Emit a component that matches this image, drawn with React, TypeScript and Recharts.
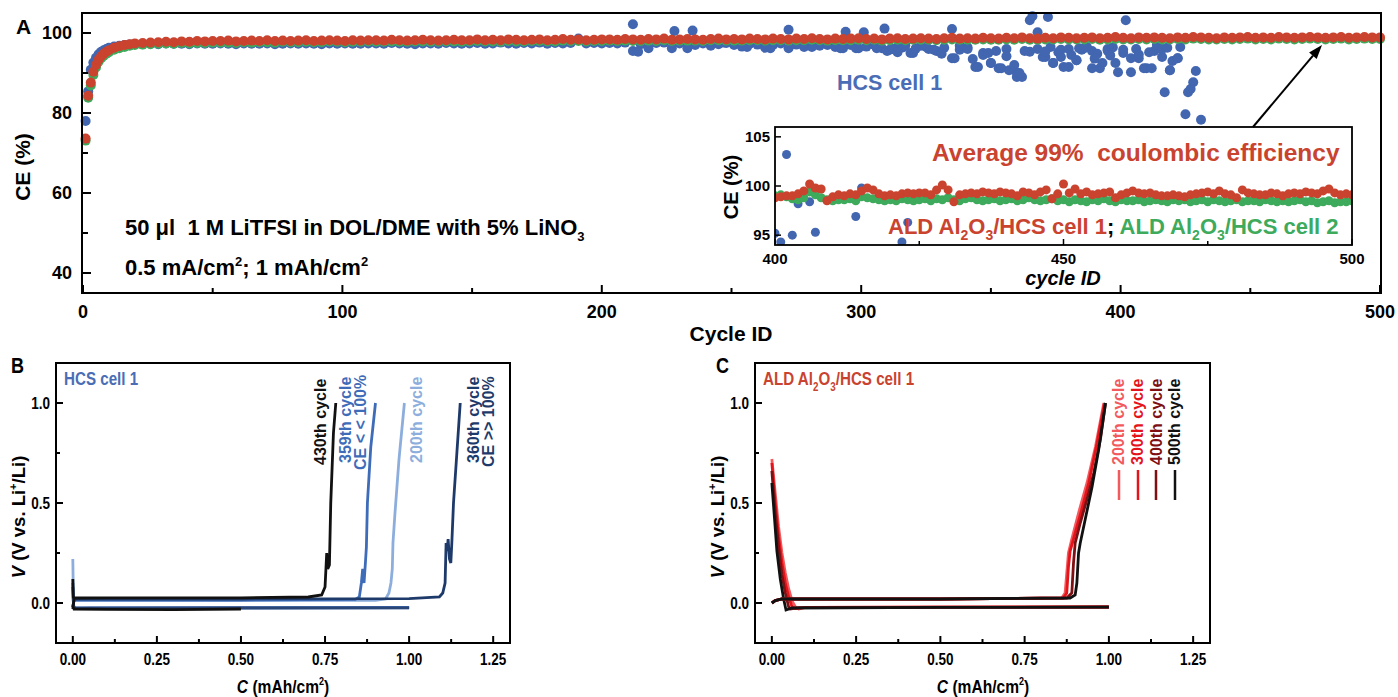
import React from "react";
import { ScatterChart, Scatter, XAxis, YAxis, LineChart, Line } from "recharts";

// ---------- Panel A: coulombic efficiency vs cycle ----------
// cycle IDs: every cycle at the start, then every 3rd cycle
const earlyCycles = [1, 2, 3, 4, 5, 6, 7, 8, 9, 10, 12, 14, 16, 18, 20];
const laterCycles = Array.from({ length: 160 }, (_, i) => 23 + i * 3);
const bandCycles = [...earlyCycles, ...laterCycles];

// ALD Al2O3/HCS cell 1 (red)
const aldCell1CE = [
  73.6, 84.3, 87.6, 90.3, 92.0, 93.3, 94.2, 94.8, 95.3, 95.7, 96.3, 96.7, 97.0, 97.2, 97.4,
  97.5, 97.6, 97.7, 97.8, 97.7, 97.9, 97.8, 98.0, 97.9, 98.0,
  98.0, 98.1, 97.9, 98.0, 98.1, 98.0, 98.2, 98.0, 98.1, 98.0,
  98.1, 98.2, 98.0, 98.1, 98.2, 98.1, 98.0, 98.2, 98.1, 98.2,
  98.2, 98.1, 98.3, 98.2, 98.1, 98.2, 98.3, 98.2, 98.1, 98.2,
  98.3, 98.2, 98.2, 98.4, 98.2, 98.3, 98.2, 98.4, 98.3, 98.2,
  98.3, 98.4, 98.2, 98.3, 98.5, 98.3, 98.4, 98.2, 98.3, 98.4,
  98.4, 98.3, 98.5, 98.4, 98.3, 98.5, 98.4, 98.6, 98.3, 98.4,
  98.5, 98.4, 98.3, 98.5, 98.6, 98.4, 98.5, 98.4, 98.6, 98.5,
  98.4, 98.6, 98.5, 98.4, 98.6, 98.5, 98.7, 98.5, 98.4, 98.6,
  98.5, 98.6, 98.7, 98.5, 98.6, 98.4, 98.6, 98.7, 98.5, 98.6,
  98.7, 98.6, 98.5, 98.7, 98.8, 98.6, 98.7, 98.6, 98.8, 98.7,
  98.6, 98.8, 98.7, 98.9, 98.7, 98.6, 98.8, 98.7, 98.9, 98.8,
  98.7, 98.8, 98.9, 98.7, 98.8, 99.0, 98.8, 98.7, 98.9, 98.8,
  98.9, 98.8, 98.7, 98.9, 98.8, 99.0, 98.9, 98.8, 98.7, 98.9,
  98.8, 98.9, 99.0, 98.8, 98.9, 98.8, 99.0, 98.9, 98.8, 98.9,
  99.0, 98.9, 98.8, 98.9, 99.0, 98.8, 98.9, 99.0, 98.9, 98.9,
];

// ALD Al2O3/HCS cell 2 (green)
const aldCell2CE = [
  73.1, 83.8, 86.9, 89.5, 91.4, 92.8, 93.7, 94.3, 94.8, 95.2, 95.8, 96.2, 96.5, 96.8, 97.0,
  97.1, 97.2, 97.3, 97.4, 97.3, 97.5, 97.4, 97.5, 97.5, 97.6,
  97.6, 97.6, 97.5, 97.7, 97.6, 97.7, 97.7, 97.6, 97.8, 97.7,
  97.7, 97.8, 97.7, 97.7, 97.9, 97.8, 97.7, 97.8, 97.8, 97.9,
  97.8, 97.8, 97.9, 97.8, 97.8, 97.9, 97.9, 97.8, 97.8, 97.9,
  97.9, 97.8, 97.9, 98.0, 97.9, 97.9, 97.8, 98.0, 97.9, 97.9,
  98.0, 98.0, 97.9, 97.9, 98.1, 98.0, 98.0, 97.9, 98.0, 98.0,
  98.1, 98.0, 98.1, 98.0, 98.0, 98.1, 98.0, 98.2, 98.0, 98.1,
  98.1, 98.1, 98.0, 98.2, 98.2, 98.1, 98.1, 98.1, 98.2, 98.2,
  98.1, 98.2, 98.2, 98.1, 98.2, 98.2, 98.3, 98.2, 98.1, 98.2,
  98.2, 98.2, 98.3, 98.2, 98.3, 98.1, 98.2, 98.3, 98.2, 98.3,
  98.3, 98.3, 98.2, 98.3, 98.4, 98.3, 98.3, 98.3, 98.4, 98.3,
  98.3, 98.4, 98.3, 98.5, 98.3, 98.3, 98.4, 98.4, 98.5, 98.4,
  98.4, 98.4, 98.5, 98.3, 98.4, 98.5, 98.4, 98.4, 98.5, 98.4,
  98.5, 98.4, 98.4, 98.5, 98.4, 98.6, 98.5, 98.4, 98.4, 98.5,
  98.4, 98.5, 98.6, 98.4, 98.5, 98.4, 98.6, 98.5, 98.4, 98.5,
  98.6, 98.5, 98.4, 98.5, 98.6, 98.4, 98.5, 98.6, 98.5, 98.5,
];

// HCS cell 1 (blue) on the same cycle grid, until the cell fails (~cycle 431)
const hcsCE = [
  78.0, 85.4, 90.8, 92.6, 93.8, 94.7, 95.3, 95.7, 96.0, 96.3, 96.6, 96.8, 97.0, 97.1, 97.2,
  97.2, 97.3, 97.2, 97.4, 97.3, 97.3, 97.2, 97.4, 97.3, 97.3,
  97.4, 97.3, 97.2, 97.4, 97.3, 97.3, 97.4, 97.2, 97.3, 97.4,
  97.3, 97.4, 97.3, 97.2, 97.4, 97.3, 97.4, 97.3, 97.3, 97.4,
  97.4, 97.3, 97.5, 97.4, 97.3, 97.2, 97.4, 97.4, 97.3, 97.5,
  97.4, 97.3, 97.4, 97.5, 97.3, 97.4, 97.6, 97.4, 97.3, 97.5,
  97.4, 97.6, 97.3, 97.5, 97.4, 97.5, 98.6, 97.4, 97.5, 97.4,
  97.5, 97.4, 97.6, 95.5, 97.2, 96.2, 97.5, 97.6, 96.2, 97.4,
  96.2, 97.0, 97.4, 96.8, 97.2, 97.5, 97.0, 96.6, 97.3, 97.1,
  96.3, 97.0, 97.4, 96.2, 97.1, 96.5, 97.2, 96.8, 97.0, 96.5,
  96.2, 97.0, 96.2, 96.6, 97.1, 96.2, 95.8, 96.5, 96.9, 95.0,
  96.8, 96.0, 95.5, 96.3, 93.7, 95.8, 96.4, 91.5, 95.0, 92.5,
  91.2, 96.0, 90.7, 89.0, 95.3, 96.0, 94.0, 92.5, 95.8, 91.5,
  93.2, 96.2, 95.5, 91.2, 96.0, 92.5, 95.0, 90.2, 93.7, 91.2,
  95.5, 94.0, 90.7, 93.7, 79.7, 87.7, 78.3,
];

// scattered HCS cell 1 points off the grid
const hcsExtraCycles = [
  212, 214, 228, 235, 247, 256, 265, 272, 281, 292, 294, 298, 301, 306, 309, 310, 312, 316, 319,
  325, 328, 335, 336, 338, 341, 345, 347, 350, 352, 354, 357, 360, 361, 363, 365, 366, 368, 370,
  372, 373, 374, 376, 378, 380, 381, 383, 385, 387, 389, 391, 393, 395, 397, 399, 402, 404, 406,
  409, 411, 412, 414, 416, 417, 419, 420, 422, 423, 426, 427, 429,
  314, 321, 331, 343, 349, 356, 359, 371, 377, 384, 390, 396, 401, 407, 418,
];
const hcsExtraCE = [
  102.2, 95.3, 100.5, 100.6, 97.6, 96.5, 96.2, 100.8, 96.5, 96.2, 100.3, 96.2, 100.2, 96.2, 101.1, 95.5, 96.0, 96.4, 95.0,
  96.5, 95.8, 101.0, 93.7, 96.8, 96.0, 91.5, 94.5, 92.5, 95.5, 91.2, 90.7, 89.0, 90.0, 95.5, 103.2, 104.2, 100.2, 94.0,
  104.0, 96.5, 92.5, 95.2, 91.5, 96.0, 94.5, 93.2, 95.8, 96.5, 91.2, 94.8, 92.5, 95.6, 96.4, 90.2, 103.2, 93.7, 96.0,
  91.2, 95.2, 91.2, 97.0, 96.0, 85.2, 90.7, 93.0, 93.7, 96.5, 85.2, 86.0, 90.5,
  95.2, 96.1, 94.8, 93.5, 95.0, 94.2, 92.0, 95.4, 94.0, 96.2, 93.6, 94.4, 95.8, 94.6, 96.3,
];

// inset: cycles 400-500
const insetCycles = Array.from({ length: 101 }, (_, i) => 400 + i);
const insetCell1CE = [
  98.8, 98.9, 99.0, 99.0, 99.2, 99.5, 100.2, 99.8, 99.7, 98.5,
  98.9, 99.1, 99.0, 99.2, 99.1, 99.5, 99.8, 99.6, 99.2, 99.0,
  99.1, 99.0, 99.2, 99.3, 99.2, 99.3, 99.3, 99.1, 99.6, 100.1,
  99.6, 98.4, 99.1, 99.2, 99.3, 99.2, 99.4, 99.3, 99.2, 99.4,
  99.3, 99.2, 99.0, 99.4, 99.3, 99.1, 99.4, 99.6, 98.7, 99.2,
  100.2, 99.3, 99.7, 99.2, 99.4, 99.1, 99.2, 99.3, 99.4, 98.8,
  99.1, 99.3, 99.5, 99.3, 99.2, 99.3, 99.1, 99.0, 99.0, 99.1,
  99.0, 98.9, 99.1, 99.2, 99.3, 99.4, 99.2, 99.5, 99.2, 99.1,
  98.8, 99.6, 99.3, 99.2, 99.1, 99.1, 99.3, 99.2, 99.0, 99.2,
  99.3, 99.2, 99.4, 99.3, 99.2, 99.5, 99.7, 99.3, 99.1, 99.2,
  99.1,
];
const insetCell2CE = [
  99.0, 99.1, 98.9, 98.7, 98.6, 98.8, 99.4, 99.1, 98.8, 98.6,
  98.5, 98.6, 98.6, 98.7, 98.5, 98.9, 98.8, 98.7, 98.6, 98.5,
  98.6, 98.5, 98.7, 98.6, 98.5, 98.6, 98.7, 98.5, 98.7, 98.6,
  98.8, 98.6, 98.5, 98.7, 98.8, 98.6, 98.5, 98.6, 98.7, 98.5,
  98.6, 98.7, 98.5, 98.6, 98.8, 98.6, 98.5, 98.6, 98.7, 98.5,
  98.6, 98.4, 98.6, 98.5, 98.4, 98.6, 98.5, 98.7, 98.5, 98.4,
  98.6, 98.5, 98.5, 98.6, 98.4, 98.5, 98.6, 98.5, 98.4, 98.6,
  98.5, 98.6, 98.4, 98.5, 98.6, 98.4, 98.6, 98.5, 98.4, 98.5,
  98.6, 98.4, 98.5, 98.5, 98.4, 98.6, 98.5, 98.4, 98.5, 98.4,
  98.5, 98.6, 98.4, 98.5, 98.3, 98.4, 98.5, 98.3, 98.4, 98.4,
  98.5,
];
const insetHcsCycles = [400, 401, 402, 403, 404, 406, 407, 414, 415, 422, 423];
const insetHcsCE = [95.2, 94.3, 103.2, 95.0, 98.2, 98.4, 95.3, 96.9, 99.8, 94.3, 96.3];

// ---------- Panel B: HCS cell 1 voltage profiles [C, V] ----------
const b200Plate = [[0, 0.22], [0.002, 0.0], [0.004, -0.028], [0.05, -0.026], [0.5, -0.025], [1.0, -0.024]];
const b200Strip = [[0, -0.02], [0.003, 0.015], [0.05, 0.013], [0.5, 0.012], [0.9, 0.013], [0.93, 0.02], [0.94, 0.05], [0.946, 0.1], [0.95, 0.17], [0.952, 0.3], [0.958, 0.45], [0.97, 0.72], [0.986, 1.0]];
const b359Plate = [[0, 0.1], [0.002, -0.01], [0.004, -0.025], [0.5, -0.023], [1.0, -0.022]];
const b359Strip = [[0, -0.02], [0.004, 0.015], [0.5, 0.015], [0.84, 0.018], [0.852, 0.03], [0.858, 0.1], [0.862, 0.17], [0.866, 0.1], [0.87, 0.2], [0.873, 0.28], [0.876, 0.5], [0.886, 0.78], [0.9, 1.0]];
const b360Plate = [[0, 0.08], [0.002, -0.01], [0.004, -0.026], [0.5, -0.025], [1.0, -0.024]];
const b360Strip = [[0, -0.02], [0.004, 0.02], [0.5, 0.02], [1.0, 0.022], [1.09, 0.03], [1.1, 0.05], [1.107, 0.1], [1.11, 0.3], [1.113, 0.26], [1.116, 0.32], [1.12, 0.22], [1.124, 0.2], [1.127, 0.3], [1.132, 0.5], [1.142, 0.75], [1.152, 1.0]];
const b430Plate = [[0, 0.12], [0.002, -0.01], [0.004, -0.03], [0.1, -0.032], [0.3, -0.033], [0.5, -0.03]];
const b430Strip = [[0, -0.03], [0.004, 0.025], [0.1, 0.026], [0.5, 0.026], [0.7, 0.03], [0.74, 0.04], [0.75, 0.08], [0.755, 0.25], [0.758, 0.17], [0.763, 0.19], [0.767, 0.5], [0.775, 0.85], [0.782, 1.0]];

// ---------- Panel C: ALD Al2O3/HCS cell 1 voltage profiles [C, V] ----------
const c200Plate = [[0, 0.72], [0.01, 0.55], [0.02, 0.38], [0.03, 0.25], [0.04, 0.15], [0.05, 0.07], [0.06, 0.01], [0.07, -0.02], [0.08, -0.03], [0.1, -0.022], [0.5, -0.02], [1.0, -0.02]];
const c300Plate = [[0, 0.7], [0.01, 0.5], [0.02, 0.33], [0.03, 0.2], [0.04, 0.1], [0.05, 0.03], [0.06, -0.02], [0.07, -0.028], [0.1, -0.022], [1.0, -0.02]];
const c400Plate = [[0, 0.66], [0.01, 0.45], [0.02, 0.28], [0.03, 0.14], [0.04, 0.05], [0.05, -0.02], [0.055, -0.03], [0.08, -0.023], [1.0, -0.02]];
const c500Plate = [[0, 0.6], [0.008, 0.42], [0.015, 0.26], [0.025, 0.12], [0.035, 0.02], [0.042, -0.035], [0.06, -0.025], [0.5, -0.022], [1.0, -0.021]];
const c200Strip = [[0, 0], [0.01, 0.012], [0.03, 0.02], [0.5, 0.02], [0.86, 0.025], [0.87, 0.05], [0.875, 0.15], [0.88, 0.25], [0.89, 0.32], [0.91, 0.45], [0.935, 0.6], [0.96, 0.78], [0.985, 1.0]];
const c300Strip = [[0, 0], [0.01, 0.012], [0.03, 0.02], [0.5, 0.02], [0.865, 0.025], [0.875, 0.05], [0.88, 0.18], [0.885, 0.26], [0.9, 0.35], [0.92, 0.47], [0.94, 0.6], [0.965, 0.8], [0.987, 1.0]];
const c400Strip = [[0, 0], [0.01, 0.012], [0.03, 0.02], [0.5, 0.02], [0.875, 0.025], [0.89, 0.05], [0.895, 0.2], [0.9, 0.3], [0.915, 0.4], [0.935, 0.52], [0.955, 0.65], [0.975, 0.82], [0.99, 1.0]];
const c500Strip = [[0, 0], [0.01, 0.012], [0.03, 0.02], [0.5, 0.02], [0.885, 0.025], [0.9, 0.04], [0.905, 0.1], [0.91, 0.25], [0.915, 0.3], [0.93, 0.42], [0.95, 0.58], [0.97, 0.77], [0.99, 1.0]];

const RED = "#C9432F";
const GREEN = "#3DAA5C";
const BLUE = "#4266B0";
const FONT = "'Liberation Sans', Arial, sans-serif";

const pts = (xs: number[], ys: number[]) => ys.map((v, i) => ({ c: xs[i], v }));
const curve = (arr: number[][]) => arr.map(([c, v]) => ({ c, v }));
const dot = (color: string, r: number) => (p: any) => <circle cx={p.cx} cy={p.cy} r={r} fill={color} />;

const hcsPoints = [...pts(bandCycles, hcsCE), ...pts(hcsExtraCycles, hcsExtraCE)];

// inward ticks with labels outside
const mainXTick = (p: any) => {
  const v = p.payload.value;
  const major = v % 100 === 0;
  return (
    <g>
      <line x1={p.x} x2={p.x} y1={p.y} y2={p.y - (major ? 8 : 5)} stroke="#000" strokeWidth={2} />
      {major && <text x={p.x} y={p.y + 25} textAnchor="middle" fontSize={18} fontWeight="bold" fontFamily={FONT}>{v}</text>}
    </g>
  );
};
const mainYTick = (p: any) => {
  const v = p.payload.value;
  const major = v % 20 === 0;
  return (
    <g>
      <line x1={p.x} x2={p.x + (major ? 8 : 5)} y1={p.y} y2={p.y} stroke="#000" strokeWidth={2} />
      {major && <text x={p.x - 11} y={p.y + 6} textAnchor="end" fontSize={18} fontWeight="bold" fontFamily={FONT}>{v}</text>}
    </g>
  );
};
const insetXTick = (p: any) => {
  const v = p.payload.value;
  const major = v % 50 === 0;
  return (
    <g>
      <line x1={p.x} x2={p.x} y1={p.y} y2={p.y - (major ? 6 : 4)} stroke="#000" strokeWidth={1.5} />
      {major && <text x={p.x} y={p.y + 19} textAnchor="middle" fontSize={15} fontWeight="bold" fontFamily={FONT}>{v}</text>}
    </g>
  );
};
const insetYTick = (p: any) => {
  const v = p.payload.value;
  return (
    <g>
      <line x1={p.x} x2={p.x + 6} y1={p.y} y2={p.y} stroke="#000" strokeWidth={1.5} />
      <text x={p.x - 5} y={p.y + 5} textAnchor="end" fontSize={15} fontWeight="bold" fontFamily={FONT}>{v}</text>
    </g>
  );
};
const vcXTick = (p: any) => {
  const v = p.payload.value;
  const major = Math.abs(v * 4 - Math.round(v * 4)) < 1e-6;
  return (
    <g>
      <line x1={p.x} x2={p.x} y1={p.y} y2={p.y - (major ? 7 : 4)} stroke="#000" strokeWidth={2} />
      {major && (
        <text transform={`translate(${p.x},${p.y + 22}) scale(0.82,1)`} textAnchor="middle" fontSize={16.5} fontWeight="bold" fontFamily={FONT}>
          {v.toFixed(2)}
        </text>
      )}
    </g>
  );
};
const vcYTick = (p: any) => {
  const v = p.payload.value;
  const major = Math.abs(v * 2 - Math.round(v * 2)) < 1e-6;
  return (
    <g>
      <line x1={p.x} x2={p.x + (major ? 7 : 4)} y1={p.y} y2={p.y} stroke="#000" strokeWidth={2} />
      {major && (
        <text transform={`translate(${p.x - 6},${p.y + 6}) scale(0.82,1)`} textAnchor="end" fontSize={16.5} fontWeight="bold" fontFamily={FONT}>
          {v.toFixed(1)}
        </text>
      )}
    </g>
  );
};

const vcXTicks = [0, 0.125, 0.25, 0.375, 0.5, 0.625, 0.75, 0.875, 1.0, 1.125, 1.25];
const vcYTicks = [0, 0.25, 0.5, 0.75, 1.0];

function VCChart({ lines, left }: { lines: { data: number[][]; color: string }[]; left: number }) {
  return (
    <LineChart width={520} height={347} margin={{ top: 13, right: 10, bottom: 24, left }}>
      <XAxis type="number" dataKey="c" domain={[-0.05, 1.3]} ticks={vcXTicks} interval={0} tickSize={0} tickMargin={0} axisLine={false} tick={vcXTick} height={30} allowDataOverflow />
      <YAxis type="number" dataKey="v" domain={[-0.2, 1.2]} ticks={vcYTicks} interval={0} tickSize={0} tickMargin={0} axisLine={false} tick={vcYTick} width={40} allowDataOverflow />
      {lines.map((l, i) => (
        <Line key={i} data={curve(l.data)} dataKey="v" stroke={l.color} strokeWidth={2.8} dot={false} isAnimationActive={false} />
      ))}
    </LineChart>
  );
}

const Narrow = ({ x, y, size, fill = "#000", anchor = "start", children }: any) => (
  <text transform={`translate(${x},${y}) scale(0.82,1)`} fontSize={size} fill={fill} textAnchor={anchor} fontWeight="bold">
    {children}
  </text>
);
const Vert = ({ x, y, fill, children }: any) => (
  <text transform={`translate(${x},${y}) rotate(-90)`} fontSize={16} fill={fill} fontWeight="bold">
    {children}
  </text>
);

export default function App() {
  return (
    <div style={{ position: "absolute", left: 0, top: 0, width: 1398, height: 697, background: "#fff", fontFamily: FONT }}>
      {/* Panel A main */}
      <div style={{ position: "absolute", left: 0, top: 0 }}>
        <ScatterChart width={1398} height={345} margin={{ top: 13, right: 18, bottom: 22, left: 33 }}>
          <XAxis type="number" dataKey="c" domain={[0, 500]} ticks={[0, 50, 100, 150, 200, 250, 300, 350, 400, 450, 500]} interval={0} tickSize={0} tickMargin={0} axisLine={false} tick={mainXTick} height={30} />
          <YAxis type="number" dataKey="v" domain={[35, 105]} ticks={[40, 50, 60, 70, 80, 90, 100]} interval={0} tickSize={0} tickMargin={0} axisLine={false} tick={mainYTick} width={50} />
          <Scatter data={hcsPoints} shape={dot(BLUE, 5)} isAnimationActive={false} />
          <Scatter data={pts(bandCycles, aldCell2CE)} shape={dot(GREEN, 5)} isAnimationActive={false} />
          <Scatter data={pts(bandCycles, aldCell1CE)} shape={dot(RED, 5)} isAnimationActive={false} />
        </ScatterChart>
      </div>

      {/* Panel A inset */}
      <div style={{ position: "absolute", left: 775, top: 127, width: 577, height: 118, background: "#fff" }} />
      <div style={{ position: "absolute", left: 690, top: 120 }}>
        <ScatterChart width={700} height={170} margin={{ top: 7, right: 38, bottom: 25, left: 45 }}>
          <XAxis type="number" dataKey="c" domain={[400, 500]} ticks={[400, 425, 450, 475, 500]} interval={0} tickSize={0} tickMargin={0} axisLine={false} tick={insetXTick} height={20} allowDataOverflow />
          <YAxis type="number" dataKey="v" domain={[94, 106]} ticks={[95, 100, 105]} interval={0} tickSize={0} tickMargin={0} axisLine={false} tick={insetYTick} width={40} allowDataOverflow />
          <Scatter data={pts(insetHcsCycles, insetHcsCE)} shape={dot(BLUE, 4.5)} isAnimationActive={false} />
          <Scatter data={pts(insetCycles, insetCell2CE)} shape={dot(GREEN, 4.5)} isAnimationActive={false} />
          <Scatter data={pts(insetCycles, insetCell1CE)} shape={dot(RED, 4.5)} isAnimationActive={false} />
        </ScatterChart>
      </div>

      {/* Panel B */}
      <div style={{ position: "absolute", left: 0, top: 350 }}>
        <VCChart
          left={16}
          lines={[
            { data: b200Plate, color: "#8DAEDD" },
            { data: b359Plate, color: "#3F6CB8" },
            { data: b360Plate, color: "#2A4677" },
            { data: b430Plate, color: "#111" },
            { data: b200Strip, color: "#8DAEDD" },
            { data: b359Strip, color: "#3F6CB8" },
            { data: b360Strip, color: "#1E3A6A" },
            { data: b430Strip, color: "#111" },
          ]}
        />
      </div>

      {/* Panel C */}
      <div style={{ position: "absolute", left: 700, top: 350 }}>
        <VCChart
          left={15}
          lines={[
            { data: c200Plate, color: "#F25A5E" },
            { data: c300Plate, color: "#E5141B" },
            { data: c400Plate, color: "#7E0F12" },
            { data: c500Plate, color: "#111" },
            { data: c200Strip, color: "#F25A5E" },
            { data: c300Strip, color: "#E5141B" },
            { data: c400Strip, color: "#7E0F12" },
            { data: c500Strip, color: "#111" },
          ]}
        />
      </div>

      {/* frames, labels and annotations */}
      <svg width={1398} height={697} style={{ position: "absolute", left: 0, top: 0, pointerEvents: "none" }} fontFamily={FONT}>
        <g fill="none" stroke="#000" strokeWidth={2}>
          <rect x={82} y={13} width={1299} height={280} />
          <rect x={775} y={127} width={577} height={118} strokeWidth={1.8} />
          <rect x={56} y={363} width={454} height={280} />
          <rect x={755} y={363} width={455} height={280} />
        </g>

        {/* A */}
        <text x={16} y={34} fontSize={21} fontWeight="bold">A</text>
        <text transform="translate(30,167) rotate(-90)" textAnchor="middle" fontSize={21} fontWeight="bold">CE (%)</text>
        <text x={731} y={341} textAnchor="middle" fontSize={21} fontWeight="bold">Cycle ID</text>
        <text x={837} y={90} fontSize={21.5} fontWeight="bold" fill="#4A6DB5">HCS cell 1</text>
        <text x={125} y={235} fontSize={22} fontWeight="bold" style={{ whiteSpace: "pre" }}>
          50 μl  1 M LiTFSI in DOL/DME with 5% LiNO<tspan fontSize={13} dy={6}>3</tspan>
        </text>
        <text x={125} y={275} fontSize={22} fontWeight="bold">
          0.5 mA/cm<tspan fontSize={13} dy={-9}>2</tspan><tspan dy={9}>; 1 mAh/cm</tspan><tspan fontSize={13} dy={-9}>2</tspan>
        </text>
        <text x={932} y={161} fontSize={24.5} fontWeight="bold" fill={RED} style={{ whiteSpace: "pre" }}>Average 99%  coulombic efficiency</text>
        <text x={888} y={234} fontSize={22} fontWeight="bold">
          <tspan fill={RED}>ALD Al</tspan><tspan fill={RED} fontSize={14} dy={6}>2</tspan>
          <tspan fill={RED} dy={-6}>O</tspan><tspan fill={RED} fontSize={14} dy={6}>3</tspan>
          <tspan fill={RED} dy={-6}>/HCS cell 1</tspan><tspan fill="#000">; </tspan>
          <tspan fill={GREEN}>ALD Al</tspan><tspan fill={GREEN} fontSize={14} dy={6}>2</tspan>
          <tspan fill={GREEN} dy={-6}>O</tspan><tspan fill={GREEN} fontSize={14} dy={6}>3</tspan>
          <tspan fill={GREEN} dy={-6}>/HCS cell 2</tspan>
        </text>
        <text transform="translate(738,187) rotate(-90)" textAnchor="middle" fontSize={20} fontWeight="bold">CE (%)</text>
        <text x={1063} y={285} textAnchor="middle" fontSize={20} fontWeight="bold" fontStyle="italic">cycle ID</text>
        <line x1={1253} y1={127} x2={1313} y2={55.7} stroke="#000" strokeWidth={2} />
        <polygon points="1322,45 1316.7,58.9 1309.1,52.5" fill="#000" />

        {/* B */}
        <Narrow x={11} y={373} size={22}>B</Narrow>
        <Narrow x={64} y={385} size={18.5} fill="#4A6DB5">HCS cell 1</Narrow>
        <Vert x={326} y={465} fill="#111">430th cycle</Vert>
        <Vert x={351} y={463} fill="#3F6CB8">359th cycle</Vert>
        <Vert x={366} y={470} fill="#3F6CB8">CE &lt; &lt; 100%</Vert>
        <Vert x={422} y={463} fill="#8DAEDD">200th cycle</Vert>
        <Vert x={479} y={463} fill="#1E3A6A">360th cycle</Vert>
        <Vert x={494} y={467} fill="#1E3A6A">CE &gt;&gt; 100%</Vert>
        <text transform="translate(25,517) rotate(-90)" textAnchor="middle" fontSize={18.5} fontWeight="bold">
          <tspan fontStyle="italic">V</tspan> (V vs. Li<tspan fontSize={11} dy={-8}>+</tspan><tspan dy={8}>/Li)</tspan>
        </text>
        <Narrow x={283} y={693} size={19} anchor="middle">
          <tspan fontStyle="italic">C</tspan> (mAh/cm<tspan fontSize={11} dy={-8}>2</tspan><tspan dy={8}>)</tspan>
        </Narrow>

        {/* C */}
        <Narrow x={716} y={373} size={22}>C</Narrow>
        <Narrow x={763} y={385} size={18.5} fill={RED}>
          ALD Al<tspan fontSize={12} dy={6}>2</tspan><tspan dy={-6}>O</tspan><tspan fontSize={12} dy={6}>3</tspan><tspan dy={-6}>/HCS cell 1</tspan>
        </Narrow>
        <Vert x={1124} y={465} fill="#F25A5E">200th cycle</Vert>
        <Vert x={1143} y={465} fill="#E5141B">300th cycle</Vert>
        <Vert x={1162} y={465} fill="#7E0F12">400th cycle</Vert>
        <Vert x={1180} y={465} fill="#111">500th cycle</Vert>
        <g strokeWidth={2.5}>
          <line x1={1119} x2={1119} y1={470} y2={500} stroke="#F25A5E" />
          <line x1={1138} x2={1138} y1={470} y2={500} stroke="#E5141B" />
          <line x1={1156} x2={1156} y1={470} y2={500} stroke="#7E0F12" />
          <line x1={1175} x2={1175} y1={470} y2={500} stroke="#111" />
        </g>
        <text transform="translate(724,517) rotate(-90)" textAnchor="middle" fontSize={18.5} fontWeight="bold">
          <tspan fontStyle="italic">V</tspan> (V vs. Li<tspan fontSize={11} dy={-8}>+</tspan><tspan dy={8}>/Li)</tspan>
        </text>
        <Narrow x={983} y={693} size={19} anchor="middle">
          <tspan fontStyle="italic">C</tspan> (mAh/cm<tspan fontSize={11} dy={-8}>2</tspan><tspan dy={8}>)</tspan>
        </Narrow>
      </svg>
    </div>
  );
}
